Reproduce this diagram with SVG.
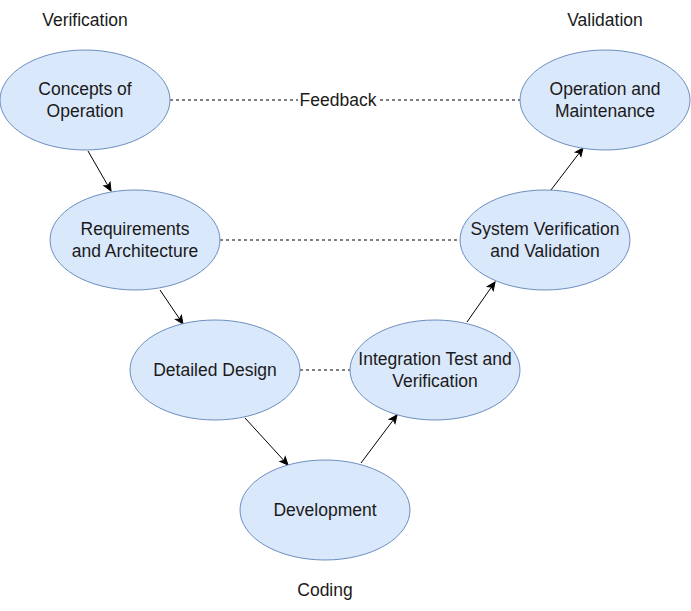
<svg xmlns="http://www.w3.org/2000/svg" width="691" height="611" viewBox="0 0 691 611">
<defs>
<marker id="arr" markerWidth="10" markerHeight="10" refX="9" refY="5" orient="auto" markerUnits="userSpaceOnUse">
<path d="M1,1.5 L9,5 L1,8.5 L3,5 Z" fill="#000" stroke="#000" stroke-width="1"/>
</marker>
</defs>
<style>
.n ellipse{fill:#dae8fc;stroke:#6c8ebf;stroke-width:1}
text{font-family:"Liberation Sans",Arial,sans-serif;font-size:17.5px;fill:#1a1a1a;text-anchor:middle}
.c line{stroke:#000;stroke-width:1}
.d line{stroke:#000;stroke-width:1;stroke-dasharray:3 3}
</style>
<rect width="691" height="611" fill="#fff"/>
<g id="connectors" class="c">
<g class="d">
<line x1="170" y1="100" x2="520" y2="100"/>
<line x1="220" y1="240" x2="460" y2="240"/>
<line x1="300" y1="370" x2="350" y2="370"/>
</g>
<rect x="298" y="90" width="80" height="20" fill="#fff"/>
<text x="338" y="106">Feedback</text>
<line x1="88" y1="151" x2="111" y2="191" marker-end="url(#arr)"/>
<line x1="160" y1="290" x2="183" y2="324" marker-end="url(#arr)"/>
<line x1="245" y1="418" x2="288" y2="465" marker-end="url(#arr)"/>
<line x1="361" y1="463" x2="397" y2="415" marker-end="url(#arr)"/>
<line x1="467" y1="322" x2="495" y2="282" marker-end="url(#arr)"/>
<line x1="551" y1="190" x2="583" y2="148" marker-end="url(#arr)"/>
</g>
<g id="concepts" class="n"><ellipse cx="85" cy="100" rx="85" ry="50"/><text x="85" y="95">Concepts of</text><text x="85" y="117">Operation</text></g>
<g id="operation" class="n"><ellipse cx="605" cy="100" rx="85" ry="50"/><text x="605" y="95">Operation and</text><text x="605" y="117">Maintenance</text></g>
<g id="requirements" class="n"><ellipse cx="135" cy="240" rx="85" ry="50"/><text x="135" y="235">Requirements</text><text x="135" y="257">and Architecture</text></g>
<g id="sysver" class="n"><ellipse cx="545" cy="240" rx="85" ry="50"/><text x="545" y="235">System Verification</text><text x="545" y="257">and Validation</text></g>
<g id="detailed" class="n"><ellipse cx="215" cy="370" rx="85" ry="50"/><text x="215" y="376">Detailed Design</text></g>
<g id="integration" class="n"><ellipse cx="435" cy="370" rx="85" ry="50"/><text x="435" y="365">Integration Test and</text><text x="435" y="387">Verification</text></g>
<g id="development" class="n"><ellipse cx="325" cy="510" rx="85" ry="50"/><text x="325" y="516">Development</text></g>
<g id="labels">
<text x="85" y="26">Verification</text>
<text x="605" y="26">Validation</text>
<text x="325" y="596">Coding</text>
</g>
</svg>
